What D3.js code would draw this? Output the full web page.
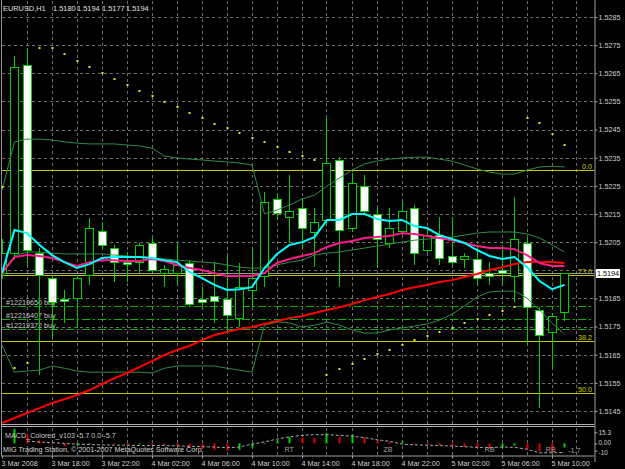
<!DOCTYPE html>
<html>
<head>
<meta charset="utf-8">
<script src="https://cdn.jsdelivr.net/npm/d3@7/dist/d3.min.js"></script>
<style>
body { margin:0; background:#000; }
svg { display:block; }
text { font-family: "Liberation Sans", Arial, sans-serif; }
</style>
</head>
<body>
<div id="chart"></div>
<script>
// hourly bars, 3 Mar 14:00 .. 5 Mar 11:00
var open  = [1.5194,1.52011,1.52679,1.52011,1.51922,1.51848,1.51851,1.51933,1.52090,1.52029,1.51979,1.51979,1.52047,1.51940,1.51940,1.51976,1.51848,1.51858,1.51848,1.51780,1.51880,1.51930,1.52203,1.52139,1.52171,1.52086,1.52129,1.52342,1.52100,1.52249,1.52150,1.52047,1.52090,1.52171,1.52022,1.52075,1.52001,1.51990,1.51990,1.51940,1.51951,1.51930,1.52047,1.51809,1.51731,1.5180]
var high  = [1.5206,1.52711,1.52740,1.52029,1.51933,1.51880,1.51933,1.52136,1.52122,1.52040,1.52015,1.52047,1.52065,1.51969,1.52047,1.51986,1.51890,1.51980,1.52001,1.51976,1.52033,1.52228,1.52225,1.52289,1.52207,1.52171,1.52491,1.52353,1.52296,1.52289,1.52171,1.52171,1.52193,1.52182,1.52100,1.52139,1.52139,1.52011,1.52040,1.51980,1.52040,1.52211,1.52065,1.51819,1.51798,1.5194]
var low   = [1.5192,1.51986,1.51965,1.51578,1.51709,1.51763,1.51745,1.51898,1.52022,1.51908,1.51908,1.51940,1.51940,1.51890,1.51898,1.51819,1.51819,1.51763,1.51727,1.51748,1.51819,1.51890,1.52129,1.52047,1.52029,1.51962,1.52111,1.51890,1.52086,1.52146,1.51958,1.52029,1.52075,1.51969,1.52011,1.51969,1.51969,1.51958,1.51898,1.51898,1.51898,1.51837,1.51684,1.51461,1.51599,1.5177]
var close = [1.5201,1.52672,1.52022,1.51933,1.51837,1.51841,1.51922,1.52100,1.52040,1.51979,1.51972,1.52040,1.51951,1.51955,1.51969,1.51830,1.51837,1.51841,1.51791,1.51890,1.51922,1.52193,1.52153,1.52160,1.52100,1.52121,1.52331,1.52093,1.52260,1.52160,1.52061,1.52100,1.52160,1.52011,1.52075,1.51994,1.51979,1.52001,1.51922,1.51930,1.51940,1.52061,1.51819,1.51720,1.51788,1.5194]

var maFast = [1.51940,1.52093,1.52082,1.52040,1.52004,1.51979,1.51958,1.51972,1.51994,1.51997,1.51997,1.51997,1.51994,1.51986,1.51979,1.51944,1.51922,1.51898,1.51880,1.51883,1.51890,1.51958,1.52008,1.52040,1.52050,1.52068,1.52129,1.52129,1.52150,1.52150,1.52132,1.52125,1.52129,1.52107,1.52100,1.52075,1.52061,1.52047,1.52022,1.52001,1.51990,1.51997,1.51961,1.51912,1.51883,1.51898]
var maMid  = [1.51940,1.51997,1.52004,1.52001,1.51994,1.51979,1.51965,1.51979,1.51986,1.51986,1.51983,1.51983,1.51990,1.51983,1.51969,1.51958,1.51951,1.51940,1.51930,1.51930,1.51930,1.51940,1.51976,1.51990,1.52001,1.52011,1.52033,1.52047,1.52054,1.52065,1.52068,1.52072,1.52082,1.52079,1.52072,1.52065,1.52057,1.52047,1.52036,1.52029,1.52029,1.52025,1.52004,1.51976,1.51965,1.51965]
var maSlow = [1.51407,1.51425,1.51443,1.51460,1.51478,1.51492,1.51507,1.51524,1.51546,1.51567,1.51585,1.51606,1.51627,1.51649,1.51667,1.51681,1.51702,1.51720,1.51731,1.51741,1.51748,1.51759,1.51770,1.51780,1.51787,1.51798,1.51809,1.51819,1.51830,1.51844,1.51855,1.51866,1.51880,1.51890,1.51898,1.51908,1.51915,1.51926,1.51937,1.51951,1.51961,1.51972,1.51979,1.51979,1.51979,1.51976]

var bbUpper = [1.52235,1.52406,1.52416,1.52416,1.52413,1.52406,1.52402,1.52399,1.52399,1.52399,1.52395,1.52392,1.52384,1.52356,1.52349,1.52345,1.52342,1.52338,1.52335,1.52331,1.52324,1.52150,1.52164,1.52182,1.52203,1.52217,1.52249,1.52278,1.52306,1.52328,1.52338,1.52345,1.52349,1.52352,1.52352,1.52345,1.52338,1.52324,1.52310,1.52299,1.52292,1.52292,1.52306,1.52317,1.52320,1.52317]
var bbMiddle = [1.51944,1.52001,1.52015,1.52015,1.52011,1.52008,1.52008,1.52008,1.52008,1.52004,1.52001,1.51997,1.51994,1.51990,1.51986,1.51983,1.51979,1.51976,1.51969,1.51961,1.51958,1.51958,1.51969,1.51979,1.51986,1.52004,1.52011,1.52015,1.52022,1.52029,1.52036,1.52043,1.52050,1.52057,1.52061,1.52065,1.52068,1.52075,1.52082,1.52086,1.52086,1.52086,1.52079,1.52065,1.52040,1.52015]
var bbLower = [1.51684,1.51588,1.51592,1.51595,1.51610,1.51602,1.51592,1.51588,1.51588,1.51588,1.51588,1.51588,1.51585,1.51602,1.51610,1.51610,1.51610,1.51610,1.51602,1.51595,1.51588,1.51755,1.51766,1.51763,1.51748,1.51755,1.51766,1.51755,1.51738,1.51727,1.51727,1.51738,1.51745,1.51752,1.51759,1.51773,1.51794,1.51823,1.51855,1.51873,1.51876,1.51876,1.51851,1.51809,1.51763,1.51723]

var sar = [1.52246,1.51602,1.51620,1.52740,1.52740,1.52719,1.52694,1.52672,1.52651,1.52630,1.52608,1.52587,1.52569,1.52548,1.52530,1.52509,1.52491,1.52470,1.52456,1.52438,1.52420,1.52406,1.52388,1.52370,1.52356,1.52342,1.51578,1.51599,1.51617,1.51635,1.51652,1.51667,1.51684,1.51702,1.51716,1.51731,1.51745,1.51763,1.51777,1.51791,1.51805,1.51819,1.52491,1.52473,1.52434,1.52395]

var macdHist = [0,20,12,4,-1,-4,-3,-1,0,-1,-2,-1.5,-2,-2.5,-4,-6,-8,-9,-10,-9,-6,-1,4,9,8,7,14,9,12,8,4,2,3,0.5,-2,-3,-4,-5,-6,-7,-6,-3,-8,-11,-12,-5.7]
var macdSignal = [null,null,3,2,1,0,-1,-1.5,-2,-2.5,-2.5,-3,-3,-3,-3.5,-4,-4.5,-5,-6,-5,-1,2,6,9,11,12,12,11,10,8,5,3,-1,-2,-2.5,-3,-3.5,-4.5,-5.5,-6,-5,-5.5,-8,-13,-13,-12.5]

var priceTicks = ["1.5145","1.5155","1.5165","1.5175","1.5185","1.5195","1.5205","1.5215","1.5225","1.5235","1.5245","1.5255","1.5265","1.5275","1.5285"]
var macdTicks = ["15.3","0.00","-10"]
var timeIdx = [0,4,8,12,16,20,24,28,32,36,40,44]
var timeLabels = ["3 Mar 2008","3 Mar 18:00","3 Mar 22:00","4 Mar 02:00","4 Mar 06:00","4 Mar 10:00","4 Mar 14:00","4 Mar 18:00","4 Mar 22:00","5 Mar 02:00","5 Mar 06:00","5 Mar 10:00"]

var fibLevels = ["0.0","23.6","38.2","50.0"]
var fibTop = 1.52306, fibBottom = 1.50720
var bid = 1.5194
var orderPrices = [1.51823, 1.51777, 1.51741]
var orderNames = ["#12219650 buy", "#12216407 buy", "#12219372 buy"]
var macdNotes = [{i:22.6, t:"RT"}, {i:30.5, t:"ZB"}, {i:38.6, t:"RB"}, {i:43.5, t:"RB"}]

var width = 625, height = 469
var plotR = 594.5, mainB = 424.5, subT = 427.5, subB = 455.5

var svg = d3.select("#chart").append("svg")
  .attr("width", width).attr("height", height)
  .style("background", "#000")

var x = d3.scaleLinear().domain([0, 45]).range([2, 564.5])
var y = d3.scaleLinear().domain([1.5145, 1.5285]).range([411, 17])
var ym = d3.scaleLinear().domain([-16, 24]).range([455, 426])

svg.append("clipPath").attr("id", "cmain").append("rect")
  .attr("x", 2).attr("y", 1).attr("width", plotR - 2).attr("height", mainB - 1)
svg.append("clipPath").attr("id", "csub").append("rect")
  .attr("x", 2).attr("y", subT).attr("width", plotR - 2).attr("height", subB - subT)

var main = svg.append("g").attr("clip-path", "url(#cmain)")
var sub = svg.append("g").attr("clip-path", "url(#csub)")

// grid
var gridStyle = function(s){ s.attr("stroke", "#6e6e6e").attr("stroke-width", 1).attr("stroke-dasharray", "3,3").attr("shape-rendering", "crispEdges") }
main.selectAll(".hg").data(priceTicks).enter().append("line")
  .attr("x1", 2).attr("x2", plotR)
  .attr("y1", d => Math.round(y(+d)) + 0.5).attr("y2", d => Math.round(y(+d)) + 0.5)
  .call(gridStyle)
var vIdx = d3.range(2, 47, 2)
main.selectAll(".vg").data(vIdx).enter().append("line")
  .attr("x1", d => Math.floor(x(d)) + 0.5).attr("x2", d => Math.floor(x(d)) + 0.5)
  .attr("y1", 1).attr("y2", mainB)
  .call(gridStyle)
sub.selectAll(".vg").data(vIdx).enter().append("line")
  .attr("x1", d => Math.floor(x(d)) + 0.5).attr("x2", d => Math.floor(x(d)) + 0.5)
  .attr("y1", subT).attr("y2", subB)
  .call(gridStyle)

// fibo levels
var fibPrice = d => fibTop - (fibTop - fibBottom) * (+d) / 100
main.selectAll(".fib").data(fibLevels).enter().append("line")
  .attr("x1", 2).attr("x2", plotR)
  .attr("y1", d => Math.round(y(fibPrice(d))) + 0.5).attr("y2", d => Math.round(y(fibPrice(d))) + 0.5)
  .attr("stroke", "#c8c800").attr("shape-rendering", "crispEdges")
main.selectAll(".fibt").data(fibLevels).enter().append("text")
  .attr("x", 592).attr("y", d => Math.round(y(fibPrice(d))) - 1)
  .attr("text-anchor", "end").attr("font-size", "7.2px").attr("fill", "#d2d200")
  .text(d => d)

// bid line
main.append("line").attr("x1", 2).attr("x2", plotR)
  .attr("y1", Math.round(y(bid)) + 0.5).attr("y2", Math.round(y(bid)) + 0.5)
  .attr("stroke", "#9a9a9a").attr("shape-rendering", "crispEdges")

// orders
main.selectAll(".ord").data(orderPrices).enter().append("line")
  .attr("x1", 2).attr("x2", plotR)
  .attr("y1", d => Math.round(y(d)) + 0.5).attr("y2", d => Math.round(y(d)) + 0.5)
  .attr("stroke", "#00b800").attr("stroke-dasharray", "8,3,2,3").attr("shape-rendering", "crispEdges")
main.selectAll(".ordt").data(orderPrices).enter().append("text")
  .attr("x", 6).attr("y", d => Math.round(y(d)) - 1)
  .attr("font-size", "7.2px").attr("fill", "#c8c8c8")
  .text((d, i) => orderNames[i])

// candles
var idx = d3.range(open.length)
main.selectAll(".wick").data(idx).enter().append("line")
  .attr("x1", i => Math.floor(x(i)) + 0.5).attr("x2", i => Math.floor(x(i)) + 0.5)
  .attr("y1", i => y(high[i])).attr("y2", i => y(low[i]))
  .attr("stroke", "#00d000").attr("shape-rendering", "crispEdges")
main.selectAll(".body").data(idx).enter().append("rect")
  .attr("x", i => Math.floor(x(i)) - 3.5)
  .attr("width", 8)
  .attr("y", i => Math.round(y(Math.max(open[i], close[i]))) + 0.5)
  .attr("height", i => Math.max(1, Math.round(Math.abs(y(open[i]) - y(close[i])))))
  .attr("fill", i => close[i] >= open[i] ? "#000" : "#fff")
  .attr("stroke", "#00d000").attr("shape-rendering", "crispEdges")

// bollinger
var line = d3.line().x((d, i) => x(i)).y(d => y(d))
;[bbUpper, bbMiddle, bbLower].forEach(function(s){
  main.append("path").datum(s).attr("d", line)
    .attr("fill", "none").attr("stroke", "#2f8c46").attr("stroke-width", 1)
})

// moving averages
main.append("path").datum(maSlow).attr("d", line).attr("fill", "none").attr("stroke", "#ff0000").attr("stroke-width", 2)
main.append("path").datum(maMid).attr("d", line).attr("fill", "none").attr("stroke", "#ff1a8c").attr("stroke-width", 2)
main.append("path").datum(maFast).attr("d", line).attr("fill", "none").attr("stroke", "#00ffff").attr("stroke-width", 2)

// parabolic sar
main.selectAll(".sar").data(sar).enter().append("rect")
  .attr("x", (d, i) => Math.floor(x(i)) - 0.5).attr("y", d => Math.round(y(d)) - 1)
  .attr("width", 2).attr("height", 2).attr("fill", "#e6e632")

// macd panel
sub.selectAll(".hist").data(macdHist).enter().append("rect")
  .attr("x", (d, i) => Math.floor(x(i)) - 0.5).attr("width", 2)
  .attr("y", d => Math.min(ym(0), ym(d)))
  .attr("height", d => Math.abs(ym(d) - ym(0)))
  .attr("fill", (d, i) => (i == 0 || d >= macdHist[i - 1]) ? "#00d000" : "#e00000")
sub.append("path").datum(macdSignal)
  .attr("d", d3.line().defined(d => d !== null).x((d, i) => x(i)).y(d => ym(d)))
  .attr("fill", "none").attr("stroke", "#a8a8a8").attr("stroke-dasharray", "3,2")
sub.selectAll(".note").data(macdNotes).enter().append("text")
  .attr("x", d => x(d.i)).attr("y", 452)
  .attr("font-size", "7.2px").attr("fill", "#a0a0a0").text(d => d.t)
sub.append("text").attr("x", 568).attr("y", 453).attr("font-size", "7.2px").attr("fill", "#a0a0a0").text("-1.7")

svg.append("text").attr("x", 5).attr("y", 438).attr("font-size", "7.2px").attr("fill", "#c8c8c8")
  .text("MACD_Colored_v103 -5.7 0.0 -5.7")
svg.append("text").attr("x", 3).attr("y", 452).attr("font-size", "7.2px").attr("fill", "#d8d8d8")
  .text("MIG Trading Station, © 2001-2007 MetaQuotes Software Corp.")

// frame
svg.append("line").attr("x1", 1.5).attr("x2", 1.5).attr("y1", 0).attr("y2", subB).attr("stroke", "#909090")
svg.append("line").attr("x1", 1).attr("x2", plotR).attr("y1", mainB).attr("y2", mainB).attr("stroke", "#b0b0b0")
svg.append("line").attr("x1", 1).attr("x2", plotR).attr("y1", subT - 1).attr("y2", subT - 1).attr("stroke", "#b0b0b0")

// price axis (the label under the bid marker is hidden, as in the terminal)
var yAxis = d3.axisRight(y).tickValues(priceTicks.map(Number))
  .tickFormat(d => Math.abs(d - bid) < 0.0003 ? "" : d3.format(".4f")(d)).tickSize(3).tickPadding(1)
var ga = svg.append("g").attr("transform", "translate(" + plotR + ",0)").call(yAxis)
ga.select(".domain").attr("stroke", "#a0a0a0").attr("d", "M0.5,0V" + 462)
ga.selectAll(".tick line").attr("stroke", "#a0a0a0")
ga.selectAll(".tick text").attr("fill", "#d0d0d0").attr("font-size", "7.2px").attr("font-family", "Liberation Sans, Arial, sans-serif")

var macdAxis = d3.axisRight(ym).tickValues(macdTicks.map(Number)).tickFormat((d, i) => macdTicks[i]).tickSize(3).tickPadding(1)
var gm = svg.append("g").attr("transform", "translate(" + plotR + ",0)").call(macdAxis)
gm.select(".domain").remove()
gm.selectAll(".tick line").attr("stroke", "#a0a0a0")
gm.selectAll(".tick text").attr("fill", "#d0d0d0").attr("font-size", "6.4px").attr("font-family", "Liberation Sans, Arial, sans-serif")
  .attr("dy", (d, i) => i == 1 ? "0.1em" : (i == 2 ? "0.55em" : "0.32em"))

// current price marker
svg.append("rect").attr("x", 596).attr("y", Math.round(y(bid)) - 4).attr("width", 24).attr("height", 9).attr("fill", "#fff")
svg.append("text").attr("x", 597).attr("y", Math.round(y(bid)) + 3).attr("font-size", "7.2px").attr("fill", "#000").text(bid.toFixed(4))

// time axis
var xAxis = d3.axisBottom(x).tickValues(timeIdx).tickFormat((d, i) => timeLabels[i]).tickSize(3).tickPadding(2)
var gx = svg.append("g").attr("transform", "translate(0," + subB + ")").call(xAxis)
gx.select(".domain").attr("stroke", "#a0a0a0").attr("d", "M1,0.5H" + plotR)
gx.selectAll(".tick line").attr("stroke", "#a0a0a0")
gx.selectAll(".tick text").attr("fill", "#d0d0d0").attr("font-size", "7.2px")
  .attr("font-family", "Liberation Sans, Arial, sans-serif")
  .attr("text-anchor", "start").attr("x", -1)

// title
var titleParts = ["EURUSD,H1", "1.5180", "1.5194", "1.5177", "1.5194"]
var titleX = [3, 53, 77, 102, 126]
svg.selectAll(".ttl").data(titleParts).enter().append("text")
  .attr("x", (d, i) => titleX[i]).attr("y", 11)
  .attr("font-size", "7.4px").attr("fill", "#e0e0e0").text(d => d)
</script>
</body>
</html>
